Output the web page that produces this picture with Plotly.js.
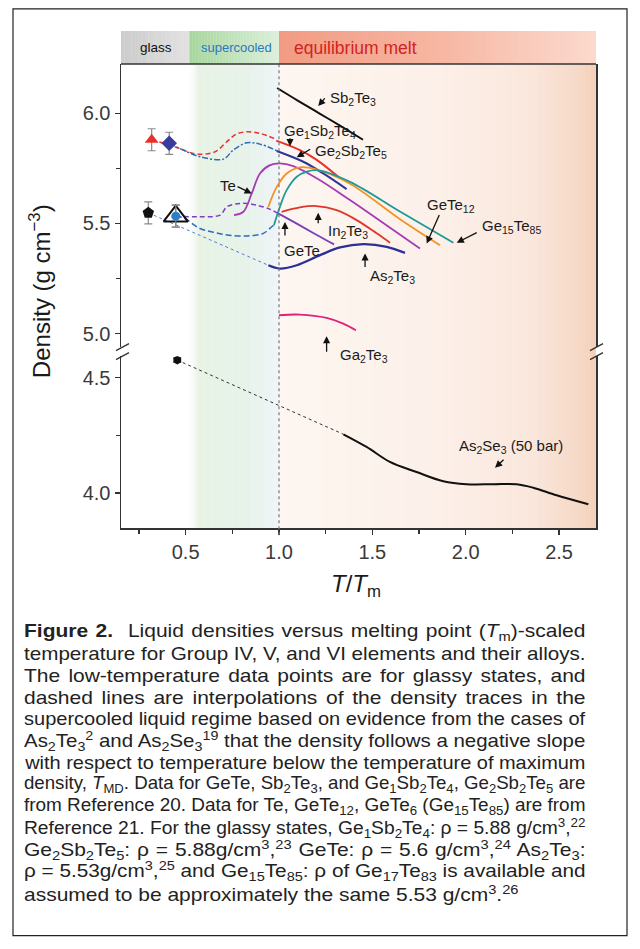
<!DOCTYPE html>
<html><head><meta charset="utf-8">
<script src="https://cdn.plot.ly/plotly-3.0.1.min.js"></script>
<style>
html,body{margin:0;padding:0;background:#fff;overflow:hidden;}
#plot{width:640px;height:949px;}
</style></head>
<body><div id="plot"></div>
<script>
// ---------------- DATA (x = T/Tm, y = density g/cm3) ----------------
const sb2te3_x = [0.99, 1.10, 1.22, 1.34, 1.45];
const sb2te3_y = [6.115, 6.058, 5.998, 5.937, 5.880];

const ge1sb2te4_sc_x = [0.318, 0.452, 0.559, 0.657, 0.720, 0.773, 0.827, 0.898, 0.985];
const ge1sb2te4_sc_y = [5.880, 5.845, 5.815, 5.825, 5.871, 5.906, 5.916, 5.909, 5.882];
const ge1sb2te4_x = [0.985, 1.112, 1.200, 1.327];
const ge1sb2te4_y = [5.876, 5.833, 5.790, 5.705];

const ge2sb2te5_sc_x = [0.412, 0.470, 0.577, 0.702, 0.755, 0.827, 0.898, 0.988];
const ge2sb2te5_sc_y = [5.864, 5.840, 5.803, 5.792, 5.833, 5.866, 5.860, 5.830];
const ge2sb2te5_x = [0.988, 1.130, 1.237, 1.362];
const ge2sb2te5_y = [5.829, 5.780, 5.727, 5.656];

const te_x = [0.759, 0.809, 0.854, 0.898, 0.952, 1.005, 1.077, 1.202, 1.380, 1.595, 1.755];
const te_y = [5.538, 5.553, 5.636, 5.727, 5.765, 5.773, 5.760, 5.705, 5.606, 5.480, 5.386];

const gete_sc_x = [0.447, 0.577, 0.684, 0.720, 0.766, 0.827, 0.880, 0.950, 0.990];
const gete_sc_y = [5.533, 5.530, 5.538, 5.575, 5.588, 5.591, 5.583, 5.565, 5.548];
const gete_x = [0.990, 1.100, 1.200, 1.295];
const gete_y = [5.548, 5.497, 5.449, 5.405];

const gete12_x = [0.943, 0.988, 1.041, 1.112, 1.200, 1.380, 1.650, 1.862];
const gete12_y = [5.576, 5.666, 5.727, 5.755, 5.745, 5.680, 5.518, 5.401];

const ge15te85_sc_x = [0.447, 0.490, 0.577, 0.666, 0.755, 0.845, 0.916, 0.961, 0.973];
const ge15te85_sc_y = [5.533, 5.525, 5.477, 5.457, 5.444, 5.444, 5.455, 5.485, 5.492];
const ge15te85_x = [0.973, 1.005, 1.041, 1.095, 1.148, 1.202, 1.380, 1.650, 1.934];
const ge15te85_y = [5.492, 5.576, 5.651, 5.712, 5.735, 5.742, 5.689, 5.553, 5.412];

const in2te3_x = [1.014, 1.112, 1.200, 1.309, 1.416, 1.523, 1.595];
const in2te3_y = [5.553, 5.573, 5.579, 5.560, 5.515, 5.455, 5.412];

const as2te3_sc_x = [0.300, 0.943];
const as2te3_sc_y = [5.548, 5.310];
const as2te3_x = [0.943, 1.005, 1.095, 1.220, 1.327, 1.452, 1.577, 1.675];
const as2te3_y = [5.310, 5.295, 5.310, 5.356, 5.391, 5.406, 5.394, 5.366];

const ga2te3_x = [1.000, 1.112, 1.255, 1.344, 1.412];
const ga2te3_y = [5.083, 5.086, 5.071, 5.045, 5.015];

const as2se3_sc_x = [0.455, 1.345];
const as2se3_sc_y = [4.577, 4.255];
const as2se3_x = [1.345, 1.469, 1.594, 1.737, 1.880, 2.005, 2.148, 2.273, 2.362, 2.487, 2.657];
const as2se3_y = [4.255, 4.200, 4.135, 4.091, 4.051, 4.038, 4.038, 4.038, 4.023, 3.990, 3.951];

// glassy states
const glass_ge1sb2te4 = {x: [0.318], y: [5.88], err: [0.05]};
const glass_ge2sb2te5 = {x: [0.412], y: [5.864], err: [0.05]};
const glass_gete      = {x: [0.300], y: [5.548], err: [0.05]};
const glass_as2te3    = {x: [0.447], y: [5.533], err: [0.05]};
const glass_ge15te85  = {x: [0.447], y: [5.533], err: [0.05]};
const glass_as2se3    = {x: [0.455], y: [4.577], err: [0.01]};

// tick labels
const xTickVals = [0.5, 1.0, 1.5, 2.0, 2.5];
const yTickValsUpper = [5.0, 5.5, 6.0];
const yTickValsLower = [4.0, 4.5];

const regionLabels = ['glass', 'supercooled', 'equilibrium melt'];

const captionLines = [
  '<b>Figure 2.</b>  Liquid densities versus melting point (<i>T</i><sub>m</sub>)-scaled',
  'temperature for Group IV, V, and VI elements and their alloys.',
  'The low-temperature data points are for glassy states, and',
  'dashed lines are interpolations of the density traces in the',
  'supercooled liquid regime based on evidence from the cases of',
  'As<sub>2</sub>Te<sub>3</sub><sup>2</sup> and As<sub>2</sub>Se<sub>3</sub><sup>19</sup> that the density follows a negative slope',
  'with respect to temperature below the temperature of maximum',
  'density, <i>T</i><sub>MD</sub>. Data for GeTe, Sb<sub>2</sub>Te<sub>3</sub>, and Ge<sub>1</sub>Sb<sub>2</sub>Te<sub>4</sub>, Ge<sub>2</sub>Sb<sub>2</sub>Te<sub>5</sub> are',
  'from Reference 20. Data for Te, GeTe<sub>12</sub>, GeTe<sub>6</sub> (Ge<sub>15</sub>Te<sub>85</sub>) are from',
  'Reference 21. For the glassy states, Ge<sub>1</sub>Sb<sub>2</sub>Te<sub>4</sub>: ρ = 5.88 g/cm<sup>3</sup>,<sup>22</sup>',
  'Ge<sub>2</sub>Sb<sub>2</sub>Te<sub>5</sub>: ρ = 5.88g/cm<sup>3</sup>,<sup>23</sup> GeTe: ρ = 5.6 g/cm<sup>3</sup>,<sup>24</sup> As<sub>2</sub>Te<sub>3</sub>:',
  'ρ = 5.53g/cm<sup>3</sup>,<sup>25</sup> and Ge<sub>15</sub>Te<sub>85</sub>: ρ of Ge<sub>17</sub>Te<sub>83</sub> is available and',
  'assumed to be approximately the same 5.53 g/cm<sup>3</sup>.<sup>26</sup>'
];

// ---------------- LAYOUT HELPERS ----------------
const L_PX = 121, R_PX = 596, T_PX = 64, B_PX = 527.7;
const PX = px => (px - L_PX) / (R_PX - L_PX);
const PY = py => (B_PX - py) / (B_PX - T_PX);
const FONT = 'Liberation Sans, Arial, Helvetica, sans-serif';
const XR = [0.1537, 2.698];
const CAP_LEFT = 22, CAP_RIGHT = 584, CAP_TOP = 632, CAP_STEP = 21.75, CAP_MAXSTRETCH = 1.2;

function lineTrace(x, y, color, width, dash, yaxis) {
  return {x: x, y: y, type: 'scatter', mode: 'lines', yaxis: yaxis || 'y',
    line: {color: color, width: width, dash: dash || 'solid', shape: 'spline', smoothing: 1},
    hoverinfo: 'skip', showlegend: false};
}
function markTrace(g, symbol, size, color, lineColor, lineWidth, yaxis) {
  return {x: g.x, y: g.y, type: 'scatter', mode: 'markers', yaxis: yaxis || 'y',
    marker: {symbol: symbol, size: size, color: color, line: {color: lineColor, width: lineWidth}},
    error_y: {type: 'data', array: g.err, visible: true, color: '#8a8a8a', thickness: 1.2, width: 4},
    hoverinfo: 'skip', showlegend: false};
}

const traces = [
  lineTrace(as2te3_sc_x, as2te3_sc_y, '#4a7fd0', 1, 'dot'),
  lineTrace(ge1sb2te4_sc_x, ge1sb2te4_sc_y, '#e8322a', 1.5, '5px,3px'),
  lineTrace(ge2sb2te5_sc_x, ge2sb2te5_sc_y, '#2e6db5', 1.5, '6px,2px,2px,2px'),
  lineTrace(gete_sc_x, gete_sc_y, '#7d3fc0', 1.5, '5px,3px'),
  lineTrace(ge15te85_sc_x, ge15te85_sc_y, '#2a6cc0', 1.5, '6px,3px'),
  lineTrace(sb2te3_x, sb2te3_y, '#111111', 2),
  lineTrace(ge1sb2te4_x, ge1sb2te4_y, '#e8322a', 2),
  lineTrace(ge2sb2te5_x, ge2sb2te5_y, '#2f3596', 2),
  lineTrace(gete_x, gete_y, '#7b3fb8', 1.8),
  lineTrace(te_x, te_y, '#a63cb5', 1.8),
  lineTrace(gete12_x, gete12_y, '#f39323', 1.8),
  lineTrace(ge15te85_x, ge15te85_y, '#1f9a96', 1.8),
  lineTrace(in2te3_x, in2te3_y, '#e0352b', 1.8),
  lineTrace(as2te3_x, as2te3_y, '#2e2f96', 2.3),
  lineTrace(ga2te3_x, ga2te3_y, '#e0207a', 1.8),
  lineTrace(as2se3_sc_x, as2se3_sc_y, '#333333', 1, 'dot', 'y2'),
  lineTrace(as2se3_x, as2se3_y, '#111111', 2, 'solid', 'y2'),
  markTrace(glass_ge1sb2te4, 'triangle-up', 12, '#e8302a', '#e8302a', 0),
  markTrace(glass_ge2sb2te5, 'diamond', 12, '#3b3b9e', '#3b3b9e', 0),
  markTrace(glass_gete, 'pentagon', 12, '#111111', '#111111', 0),
  markTrace(glass_as2te3, 'triangle-up-open', 21, '#111111', '#111111', 2),
  markTrace(glass_ge15te85, 'circle', 9, '#2a80c8', '#2a80c8', 0),
  markTrace(glass_as2se3, 'hexagon', 9, '#111111', '#111111', 0, 'y2')
];

// ---------------- SHAPES ----------------
const shapes = [];
function interp(stops, t) {
  for (let i = 0; i < stops.length - 1; i++) {
    const a = stops[i], b = stops[i + 1];
    if (t >= a[0] && t <= b[0]) {
      const f = (t - a[0]) / (b[0] - a[0]);
      const c = a[1].map((v, k) => v + (b[1][k] - v) * f);
      return 'rgba(' + Math.round(c[0]) + ',' + Math.round(c[1]) + ',' + Math.round(c[2]) + ',' + c[3].toFixed(3) + ')';
    }
  }
  const l = stops[stops.length - 1][1];
  return 'rgba(' + l.join(',') + ')';
}
function grad(x0, x1, y0, y1, stops, n) {
  for (let i = 0; i < n; i++) {
    const t0 = i / n, t1 = (i + 1) / n;
    shapes.push({type: 'rect', xref: 'x', yref: 'paper', layer: 'below',
      x0: x0 + (x1 - x0) * t0, x1: x0 + (x1 - x0) * t1 + (i < n - 1 ? (x1 - x0) * 0.004 : 0),
      y0: y0, y1: y1, line: {width: 0}, fillcolor: interp(stops, (t0 + t1) / 2)});
  }
}
grad(0.50, 1.0, 0, 1, [[0, [255,255,255,0]], [0.14, [232,243,230,1]], [0.6, [231,242,233,1]], [0.9, [236,244,243,1]], [1, [240,245,248,1]]], 40);
grad(1.0, XR[1], 0, 1, [[0, [253,246,241,1]], [0.5, [252,240,233,1]], [0.8, [250,231,220,1]], [0.95, [246,216,198,1]], [1, [243,208,186,1]]], 60);
const HY0 = 1, HY1 = PY(31);
grad(XR[0], 0.52, HY0, HY1, [[0, [203,203,203,1]], [1, [226,226,226,1]]], 20);
grad(0.52, 1.0, HY0, HY1, [[0, [165,214,157,1]], [1, [222,239,220,1]]], 30);
grad(1.0, XR[1], HY0, HY1, [[0, [242,155,130,1]], [0.5, [246,182,162,1]], [1, [251,218,206,1]]], 60);

shapes.push({type: 'line', xref: 'x', yref: 'paper', x0: 1, x1: 1, y0: PY(535), y1: 1,
  line: {color: '#777', width: 1.2, dash: 'dot'}});
shapes.push({type: 'line', xref: 'paper', yref: 'paper', x0: 0, x1: 1, y0: 1, y1: 1,
  line: {color: '#333', width: 1.5}});
[[116, 129], [590, 603]].forEach(function (p) {
  shapes.push({type: 'line', xref: 'paper', yref: 'paper', x0: PX(p[0]), x1: PX(p[1]), y0: PY(350.5), y1: PY(343.5), line: {color: '#333', width: 1.3}});
  shapes.push({type: 'line', xref: 'paper', yref: 'paper', x0: PX(p[0]), x1: PX(p[1]), y0: PY(359.5), y1: PY(352.5), line: {color: '#333', width: 1.3}});
});
shapes.push({type: 'rect', xref: 'paper', yref: 'paper', x0: PX(13), x1: PX(627), y0: PY(935), y1: PY(9),
  line: {color: '#222', width: 1.2}, fillcolor: 'rgba(0,0,0,0)'});

// ---------------- ANNOTATIONS ----------------
const ann = [];
const lblFont = {family: FONT, size: 15, color: '#1a1a1a'};
function label(text, x, y, yref) {
  ann.push({text: text, x: x, y: y, xref: 'x', yref: yref || 'y', xanchor: 'left', yanchor: 'middle', showarrow: false, font: lblFont});
}
function labelPaper(text, px, py) {
  ann.push({text: text, x: PX(px), y: PY(py), xref: 'paper', yref: 'paper', xanchor: 'left', yanchor: 'middle', showarrow: false, font: lblFont});
}
function arrow(x, y, ax, ay, yref) {
  ann.push({text: '', x: x, y: y, ax: ax, ay: ay, xref: 'x', yref: yref || 'y', axref: 'x', ayref: yref || 'y',
    showarrow: true, arrowhead: 2, arrowsize: 1.1, arrowwidth: 1.3, arrowcolor: '#111', standoff: 0});
}
label('Sb<sub>2</sub>Te<sub>3</sub>', 1.262, 6.068);
label('Ge<sub>1</sub>Sb<sub>2</sub>Te<sub>4</sub>', 1.014, 5.916);
label('Ge<sub>2</sub>Sb<sub>2</sub>Te<sub>5</sub>', 1.18, 5.825);
label('Te', 0.675, 5.674);
label('GeTe', 1.014, 5.379);
label('In<sub>2</sub>Te<sub>3</sub>', 1.252, 5.462);
label('GeTe<sub>12</sub>', 1.782, 5.583);
label('Ge<sub>15</sub>Te<sub>85</sub>', 2.077, 5.485);
label('As<sub>2</sub>Te<sub>3</sub>', 1.477, 5.26);
labelPaper('Ga<sub>2</sub>Te<sub>3</sub>', 338, 355);
label('As<sub>2</sub>Se<sub>3</sub> (50 bar)', 1.952, 4.203, 'y2');

arrow(1.21, 6.033, 1.252, 6.075);
arrow(1.059, 5.851, 1.059, 5.894);
arrow(1.095, 5.80, 1.175, 5.841);
arrow(0.854, 5.636, 0.77, 5.67);
arrow(1.032, 5.507, 1.032, 5.438);
arrow(1.21, 5.548, 1.21, 5.494);
arrow(1.791, 5.409, 1.862, 5.545);
arrow(1.952, 5.412, 2.067, 5.462);
arrow(1.461, 5.364, 1.461, 5.295);
arrow(1.255, 4.988, 1.255, 4.911);
arrow(2.157, 4.110, 2.211, 4.150, 'y2');

ann.push({text: regionLabels[0], x: PX(156), y: PY(48), xref: 'paper', yref: 'paper', xanchor: 'center', yanchor: 'middle', showarrow: false, font: {family: FONT, size: 13.5, color: '#111'}});
ann.push({text: regionLabels[1], x: PX(236), y: PY(48), xref: 'paper', yref: 'paper', xanchor: 'center', yanchor: 'middle', showarrow: false, font: {family: FONT, size: 13, color: '#2a78c0'}});
ann.push({text: regionLabels[2], x: PX(292), y: PY(48), xref: 'paper', yref: 'paper', xanchor: 'left', yanchor: 'middle', showarrow: false, font: {family: FONT, size: 17.5, color: '#d42222'}});

ann.push({text: 'Density (g cm<sup>−3</sup>)', x: PX(40), y: PY(291), xref: 'paper', yref: 'paper', textangle: -90,
  xanchor: 'center', yanchor: 'middle', showarrow: false, font: {family: FONT, size: 24, color: '#1a1a1a'}});
ann.push({text: '<i>T</i>/<i>T</i><sub>m</sub>', x: PX(356), y: PY(585), xref: 'paper', yref: 'paper',
  xanchor: 'center', yanchor: 'middle', showarrow: false, font: {family: FONT, size: 24, color: '#1a1a1a'}});

const capStart = ann.length;
captionLines.forEach(function (t, i) {
  ann.push({text: t, x: PX(CAP_LEFT), y: PY(CAP_TOP + i * CAP_STEP), xref: 'paper', yref: 'paper', xanchor: 'left', yanchor: 'middle',
    showarrow: false, align: 'left', font: {family: FONT, size: 17.5, color: '#222222'}});
});

const tickFont = {family: FONT, size: 20, color: '#3a3a3a'};
const layout = {
  width: 640, height: 949, autosize: false,
  margin: {l: L_PX, r: 640 - R_PX, t: T_PX, b: 949 - B_PX, pad: 0},
  paper_bgcolor: '#ffffff', plot_bgcolor: 'rgba(0,0,0,0)',
  showlegend: false,
  xaxis: {domain: [0, 1], anchor: 'y2', range: XR, tickmode: 'array', tickvals: xTickVals, ticktext: xTickVals.map(v => v.toFixed(1)),
    ticks: 'outside', ticklen: 5, tickwidth: 1.3, tickcolor: '#333', showline: true, linecolor: '#333', linewidth: 1.5,
    showgrid: false, zeroline: false, tickfont: tickFont,
    minor: {tickvals: [0.25, 0.75, 1.25, 1.75, 2.25], ticks: 'outside', ticklen: 4, tickwidth: 1.2, tickcolor: '#333', showgrid: false}},
  yaxis: {domain: [PY(347), 1], anchor: 'x', range: [4.938, 6.224], tickmode: 'array', tickvals: yTickValsUpper, ticktext: yTickValsUpper.map(v => v.toFixed(1)),
    ticks: 'outside', ticklen: 5, tickwidth: 1.3, tickcolor: '#333', showline: true, mirror: true, linecolor: '#333', linewidth: 1.5,
    showgrid: false, zeroline: false, tickfont: tickFont,
    minor: {tickvals: [5.25, 5.75], ticks: 'outside', ticklen: 4, tickwidth: 1.2, tickcolor: '#333', showgrid: false}},
  yaxis2: {domain: [0, PY(356)], anchor: 'x', range: [3.848, 4.594], tickmode: 'array', tickvals: yTickValsLower, ticktext: yTickValsLower.map(v => v.toFixed(1)),
    ticks: 'outside', ticklen: 5, tickwidth: 1.3, tickcolor: '#333', showline: true, mirror: true, linecolor: '#333', linewidth: 1.5,
    showgrid: false, zeroline: false, tickfont: tickFont,
    minor: {tickvals: [4.25], ticks: 'outside', ticklen: 4, tickwidth: 1.2, tickcolor: '#333', showgrid: false}},
  shapes: shapes,
  annotations: ann,
  font: {family: FONT}
};

Plotly.newPlot('plot', traces, layout, {displayModeBar: false, staticPlot: true}).then(function (gd) {
  // caption: widen glyphs per line (capped), then justify remaining space (last line left-aligned)
  const target = CAP_RIGHT - CAP_LEFT;
  for (let i = 0; i < captionLines.length; i++) {
    const g = gd.querySelector('g.annotation[data-index="' + (capStart + i) + '"]');
    const txt = g && g.querySelector('text.annotation-text');
    if (!txt) continue;
    const r = txt.getBoundingClientRect();
    const bb = txt.getBBox();
    const w = r.width;
    const last = i === captionLines.length - 1;
    const spaces = (txt.textContent.match(/ /g) || []).length;
    const s = Math.max(1, Math.min(CAP_MAXSTRETCH, target / w));
    const prev = txt.getAttribute('transform') || '';
    txt.setAttribute('transform', prev + ' translate(' + bb.x + ',0) scale(' + s.toFixed(4) + ',1) translate(' + (-bb.x) + ',0)');
    if (!last && spaces > 0) {
      const extra = target / s - w;
      if (extra > 0) txt.style.wordSpacing = (extra / spaces).toFixed(2) + 'px';
    }
  }
});
</script></body></html>
